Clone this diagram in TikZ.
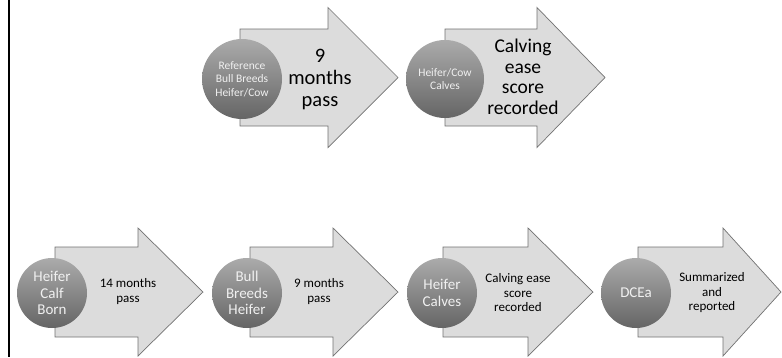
\documentclass[tikz,border=0pt]{standalone}
\usepackage{fontspec}
\setmainfont{Carlito}
\usetikzlibrary{positioning}

\definecolor{arrowfill}{HTML}{DCDCDC}
\definecolor{arrowline}{HTML}{727272}
\definecolor{beadtop}{HTML}{ABABAB}
\definecolor{beadbot}{HTML}{656565}

% left x, head x, tip x, mid y, half shaft, half head
\newcommand{\timearrow}[6]{%
  \draw[bigarrow] (#1,#4-#5) -- (#2,#4-#5) -- (#2,#4-#6) -- (#3,#4)
    -- (#2,#4+#6) -- (#2,#4+#5) -- (#1,#4+#5) -- cycle;}

\begin{document}
\begin{tikzpicture}[x=1pt,y=-1pt,
        bigarrow/.style={draw=arrowline,fill=arrowfill,line width=0.7pt},
        bead/.style={circle,top color=beadtop,bottom color=beadbot,
          text=white!94!black,align=center,inner sep=0pt},
        steptext/.style={align=center,text=black}]

  \useasboundingbox (0,0) rectangle (782,357);
  \draw[line width=2pt] (9,0) -- (9,357);

  % upper row
  \timearrow{240}{328}{398}{77.5}{48.5}{70}
  \timearrow{445}{537}{605}{77.5}{48.5}{70}

  \node[bead,minimum size=80,font=\fontsize{11.5}{13.5}\selectfont] (refbull) at (242,79)
    {Reference\\Bull Breeds\\Heifer/Cow};
  \node[steptext,font=\fontsize{20.5}{22}\selectfont] (ninetop) at (320,79)
    {9\\months\\pass};
  \node[bead,minimum size=78,font=\fontsize{11.5}{12.5}\selectfont] (cowcalves) at (445,79)
    {Heifer/Cow\\Calves};
  \node[steptext,font=\fontsize{19.5}{20.5}\selectfont] (scoretop) at (523,77)
    {Calving\\ease\\score\\recorded};

  % lower row
  \timearrow{55}{138}{203}{292}{45}{64}
  \timearrow{250}{333}{398}{292}{45}{64}
  \timearrow{443}{528}{593}{292}{45}{64}
  \timearrow{638}{723}{781}{292}{45}{64}

  \node[bead,minimum size=70,font=\fontsize{15}{16.5}\selectfont] (calfborn) at (52,293)
    {Heifer\\Calf\\Born};
  \node[steptext,font=\fontsize{13}{15}\selectfont] (fourteen) at (128,292)
    {14 months\\pass};
  \node[bead,minimum size=70,font=\fontsize{15}{16.5}\selectfont] (bullheifer) at (247,293)
    {Bull\\Breeds\\Heifer};
  \node[steptext,font=\fontsize{13}{15}\selectfont] (ninelow) at (319,292)
    {9 months\\pass};
  \node[bead,minimum size=70,font=\fontsize{15}{16.5}\selectfont] (heifercalves) at (442,293)
    {Heifer\\Calves};
  \node[steptext,font=\fontsize{13}{14.5}\selectfont] (scorelow) at (518,293)
    {Calving ease\\score\\recorded};
  \node[bead,minimum size=70,font=\fontsize{15}{16.5}\selectfont] (dcea) at (636,293)
    {DCEa};
  \node[steptext,font=\fontsize{13}{14.5}\selectfont] (reported) at (712,293)
    {Summarized\\and\\reported};

\end{tikzpicture}
\end{document}
